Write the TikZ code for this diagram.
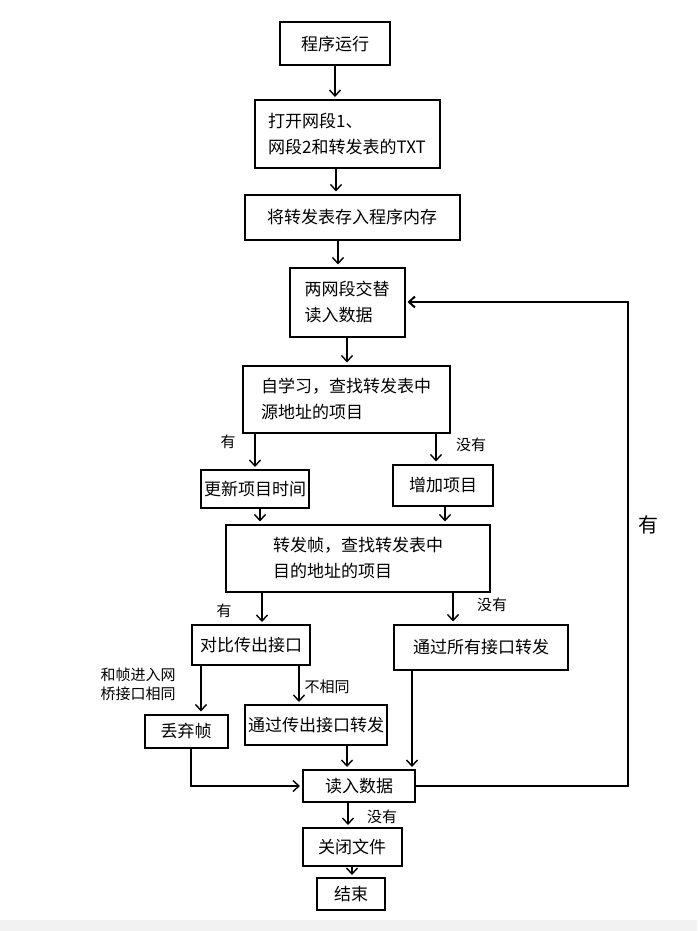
\documentclass[tikz,border=0pt]{standalone}
\usepackage{fontspec}
\setmainfont{Noto Sans CJK SC}
\usetikzlibrary{arrows.meta,positioning}

\begin{document}
\begin{tikzpicture}[x=1pt, y=-1pt,
  box/.style={draw, line width=2pt, inner sep=3pt, font=\fontsize{17}{26}\selectfont, align=left},
  lbl/.style={font=\fontsize{15}{19}\selectfont, inner sep=1pt, align=left},
  arr/.style={line width=1.4pt, shorten >=2pt, -{Straight Barb[length=6pt,width=11pt]}}]
  \useasboundingbox (0,0) rectangle (697,931);
  \fill[gray!10] (0,920) rectangle (697,931);

  \node[box, minimum width=110pt, minimum height=43pt] (start) at (335,44) {程序运行};
  \node[box, minimum width=185pt, minimum height=68pt] (open) at (347,134) {打开网段1、\\网段2和转发表的TXT};
  \node[box, minimum width=215pt, minimum height=45pt] (store) at (352,217) {将转发表存入程序内存};
  \node[box, minimum width=115pt, minimum height=69pt] (read) at (347,302) {两网段交替\\读入数据};
  \node[box, minimum width=207pt, minimum height=67pt] (learn) at (346,399) {自学习，查找转发表中\\源地址的项目};

  \node[box, minimum width=105pt, minimum height=38pt] (update) at (255,489) {更新项目时间};
  \node[box, minimum width=100pt, minimum height=41pt] (add) at (443,485) {增加项目};

  \node[box, minimum width=264pt, minimum height=67pt] (fwd) at (358,558) {转发帧，查找转发表中\\目的地址的项目};

  \node[box, minimum width=118pt, minimum height=40pt] (compare) at (251,645) {对比传出接口};
  \node[box, minimum width=174pt, minimum height=45pt] (flood) at (481,647) {通过所有接口转发};

  \node[box, minimum width=83pt, minimum height=33pt] (drop) at (186,731) {丢弃帧};
  \node[box, minimum width=137pt, minimum height=40pt] (out) at (316,725) {通过传出接口转发};

  \node[box, minimum width=112pt, minimum height=32pt] (readin) at (359,786) {读入数据};
  \node[box, minimum width=99pt, minimum height=38pt] (close) at (352,847) {关闭文件};
  \node[box, minimum width=68pt, minimum height=32pt] (end) at (351,894) {结束};

  % main line
  \draw[arr] (start.south) -- (start.south |- open.north);
  \draw[arr] ([xshift=-11pt]open.south) -- ([xshift=-11pt]open.south |- store.north);
  \draw[arr] ([xshift=-14pt]store.south) -- ([xshift=-14pt]store.south |- read.north);
  \draw[arr] (read.south) -- (read.south |- learn.north);

  % self learning
  \draw[arr] (update.north |- learn.south) -- (update.north);
  \draw[arr] ([xshift=-7pt]add.north |- learn.south) -- ([xshift=-7pt]add.north);
  \node[lbl] (yes1) at (228,442) {有};
  \node[lbl] (no1) at (471,445) {没有};
  \draw[arr] ([xshift=5pt]update.south) -- ([xshift=5pt]update.south |- fwd.north);
  \draw[arr] ([xshift=2pt]add.south) -- ([xshift=2pt]add.south |- fwd.north);

  % forwarding
  \draw[arr] ([xshift=11pt]compare.north |- fwd.south) -- ([xshift=11pt]compare.north);
  \draw[arr] ([xshift=-28pt]flood.north |- fwd.south) -- ([xshift=-28pt]flood.north);
  \node[lbl] (yes2) at (224,611) {有};
  \node[lbl] (no2) at (492,605) {没有};

  \draw[arr] ([xshift=15pt]drop.north |- compare.south) -- ([xshift=15pt]drop.north);
  \draw[arr] ([xshift=-17pt]out.north |- compare.south) -- ([xshift=-17pt]out.north);
  \node[lbl] (same) at (138,684) {和帧进入网\\桥接口相同};
  \node[lbl] (diff) at (327,687) {不相同};

  % back to reading
  \draw[arr] ([xshift=5pt]drop.south) |- (readin.west);
  \draw[arr] ([xshift=-12pt]readin.north |- out.south) -- ([xshift=-12pt]readin.north);
  \draw[arr] ([xshift=-69pt]flood.south) -- ([xshift=-69pt]flood.south |- readin.north);
  \draw[arr, line width=2pt] (readin.east) -- ++(212,0) coordinate (loop) |- node[lbl, pos=0.27, right=8pt, font=\fontsize{20}{24}\selectfont] {有} (read.east);

  \draw[arr] ([xshift=-11pt]readin.south) -- ([xshift=-11pt]readin.south |- close.north);
  \node[lbl] (no3) at (382,817) {没有};
  \draw[arr] (close.south) -- (close.south |- end.north);
\end{tikzpicture}
\end{document}
